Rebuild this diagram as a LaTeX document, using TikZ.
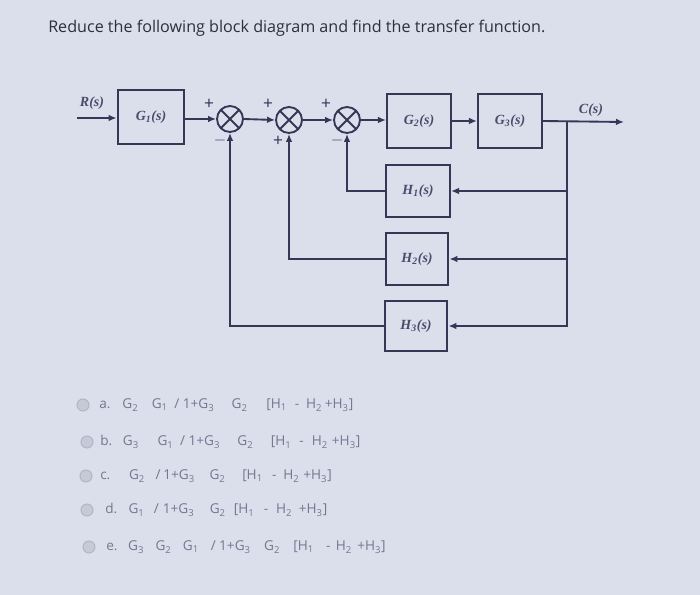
\documentclass[tikz,border=0pt]{standalone}
\usepackage{fontspec}
\setmainfont{Open Sans}
\newfontfamily\blockfont{Liberation Serif}
\usetikzlibrary{arrows.meta,calc}
\definecolor{bg}{rgb}{0.86,0.87,0.92}
\definecolor{ink}{rgb}{0.20,0.22,0.34}
\definecolor{lbl}{rgb}{0.28,0.30,0.42}
\definecolor{opt}{rgb}{0.45,0.47,0.57}
\definecolor{ttl}{rgb}{0.18,0.18,0.24}
\definecolor{radiofill}{rgb}{0.78,0.79,0.84}
\definecolor{radiodraw}{rgb}{0.70,0.71,0.78}
\newcommand{\sbs}[1]{\textsubscript{#1}}
\newcommand{\gp}[1]{\hspace{#1pt}}
\begin{document}
\begin{tikzpicture}[x=0.75pt,y=-0.75pt,
  blk/.style={draw=ink,line width=1.6pt,minimum width=48pt,minimum height=40pt,inner sep=0pt,
    font=\blockfont\bfseries\itshape\fontsize{10.5}{13}\selectfont,text=lbl},
  sumj/.style={draw=ink,line width=1.4pt,circle,minimum size=19.5pt,inner sep=0pt,
    path picture={\draw[ink,line width=1.4pt]
      (path picture bounding box.north west)--(path picture bounding box.south east)
      (path picture bounding box.north east)--(path picture bounding box.south west);}},
  wire/.style={draw=ink,line width=1.4pt},
  arr/.style={wire,-{Latex[length=6pt,width=5pt]}},
  sgn/.style={font=\fontsize{13}{14}\selectfont,text=ink,inner sep=0pt},
  sig/.style={font=\blockfont\bfseries\itshape\fontsize{10.5}{13}\selectfont,text=lbl,inner sep=0pt},
  radio/.style={circle,draw=radiodraw,fill=radiofill,line width=0.8pt,minimum size=9pt,inner sep=0pt},
  opttext/.style={anchor=west,font=\fontsize{10.2}{12}\selectfont,text=opt,inner sep=0pt}
]
\fill[bg] (0,0) rectangle (700,595);
\useasboundingbox (0,0) rectangle (700,595);

% title
\node[anchor=west,inner sep=0pt,text=ttl,font=\fontsize{12.1}{15}\selectfont] (title) at (48,28)
  {Reduce the following block diagram and find the transfer function.};

% blocks
\node[blk,minimum width=50pt] (G1) at (151,117) {G\sbs{1}(s)};
\node[blk] (G2) at (419,121) {G\sbs{2}(s)};
\node[blk] (G3) at (510,121) {G\sbs{3}(s)};
\node[blk,minimum height=39pt] (H1) at (418,191) {H\sbs{1}(s)};
\node[blk,minimum height=39pt,minimum width=47pt] (H2) at (417,259) {H\sbs{2}(s)};
\node[blk,minimum height=38pt,minimum width=47pt] (H3) at (416,326) {H\sbs{3}(s)};

% summing junctions
\node[sumj] (s1) at (230,119) {};
\node[sumj] (s2) at (289,120) {};
\node[sumj] (s3) at (347,120) {};

% signs
\node[sgn] (p1) at (209,104) {+};
\node[sgn] (m1) at (220,141) {$-$};
\node[sgn] (p2) at (268,104) {+};
\node[sgn] (p2b) at (278,141) {+};
\node[sgn] (p3) at (326,104) {+};
\node[sgn] (m3) at (337,141) {$-$};

% input / output
\coordinate (rin) at (77,118);
\coordinate (cout) at (624,122);
\coordinate (br) at (567,122);
\node[sig] (R) at (92,103) {R(s)};
\node[sig] (C) at (591,110) {C(s)};

% forward path
\draw[arr] (rin) -- (rin -| G1.west);
\draw[arr] (G1.east |- s1) -- (s1.west);
\draw[arr] (s1.east) -- (s2.west);
\draw[arr] (s2.east) -- (s3.west);
\draw[arr] (s3.east) -- (G2.west |- s3);
\draw[arr] (G2.east) -- (G3.west);
\draw[arr] (G3.east) -- (cout);

% feedback from output
\draw[arr] (br) |- (H1.east);
\draw[arr] (br) |- (H2.east);
\draw[arr] (br) |- (H3.east);

% feedback into summers
\draw[arr] (H1.west) -| (s3.south);
\draw[arr] (H2.west) -| (s2.south);
\draw[arr] (H3.west) -| (s1.south);

% answer options
\node[radio] (ra) at (83,405) {};
\node[radio] (rb) at (87,442) {};
\node[radio] (rc) at (86,476) {};
\node[radio] (rd) at (87,510) {};
\node[radio] (re) at (89,547) {};
\node[opttext] (oa) at (99,405) {a.\gp{9}G\sbs{2}\gp{10}G\sbs{1}\gp{5}/\gp{2.5}1+G\sbs{3}\gp{13}G\sbs{2}\gp{14}[H\sbs{1}\gp{6}-\gp{5}H\sbs{2}\gp{2}+H\sbs{3}]};
\node[opttext] (ob) at (100,442) {b.\gp{8}G\sbs{3}\gp{14}G\sbs{1}\gp{5}/\gp{2.5}1+G\sbs{3}\gp{13}G\sbs{2}\gp{13}[H\sbs{1}\gp{6}-\gp{6}H\sbs{2}\gp{3}+H\sbs{3}]};
\node[opttext] (oc) at (100,476) {c.\gp{14}G\sbs{2}\gp{8}/\gp{2}1+G\sbs{3}\gp{11}G\sbs{2}\gp{12.5}[H\sbs{1}\gp{7}-\gp{5}H\sbs{2}\gp{3}+H\sbs{3}]};
\node[opttext] (od) at (105,510) {d.\gp{8.5}G\sbs{1}\gp{7}/\gp{3}1+G\sbs{3}\gp{11.5}G\sbs{2}\gp{6}[H\sbs{1}\gp{7}-\gp{6}H\sbs{2}\gp{5}+H\sbs{3}]};
\node[opttext] (oe) at (106,547) {e.\gp{8}G\sbs{3}\gp{8.5}G\sbs{2}\gp{8.5}G\sbs{1}\gp{9}/\gp{2.5}1+G\sbs{3}\gp{10}G\sbs{2}\gp{10}[H\sbs{1}\gp{9}-\gp{4}H\sbs{2}\gp{4}+H\sbs{3}]};
\end{tikzpicture}
\end{document}
